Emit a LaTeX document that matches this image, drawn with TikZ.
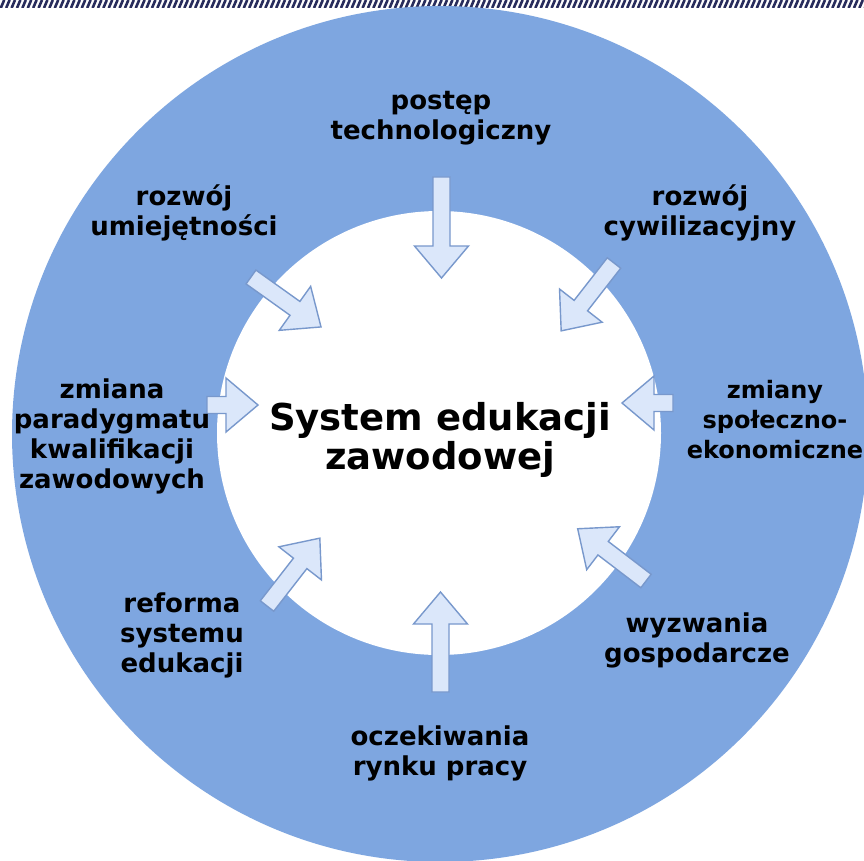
\documentclass[tikz,border=0pt]{standalone}
\usepackage{fontspec}
\setmainfont{DejaVu Sans}
\definecolor{ringblue}{RGB}{126,166,224}
\definecolor{arrfill}{RGB}{219,231,250}
\definecolor{arrline}{RGB}{120,152,204}
\definecolor{hatch}{RGB}{40,44,92}
\tikzset{
  flowarrow/.style={fill=arrfill, draw=arrline, line width=1.4pt, line join=miter},
  lbl/.style={font=\fontsize{26}{30}\selectfont\bfseries, align=center, text=black, anchor=base, inner sep=0pt},
  title/.style={font=\fontsize{37}{39}\selectfont\bfseries, align=center, text=black, anchor=base, inner sep=0pt}
}
\newcommand\flowarr[4]{%
  \draw[flowarrow, shift={(#1,#2)}, rotate=#3]
    (0,-8.5) -- ({#4-32},-8.5) -- ({#4-32},-27) -- (#4,0) -- ({#4-32},27) -- ({#4-32},8.5) -- (0,8.5) -- cycle;}
\begin{document}
\begin{tikzpicture}[x=1pt,y=1pt]
\useasboundingbox (0,0) rectangle (864,-861);
\fill[white] (0,0) rectangle (864,-861);
% hatched band
\begin{scope}
  \clip (0,0) rectangle (864,-7.5);
  \foreach \i in {-10,-4.6,...,870} \draw[hatch, line width=2.6pt] (\i,-8) -- (\i+3.4,0);
\end{scope}
% rings
\begin{scope}
  \clip (0,0) rectangle (864,-861);
  \fill[ringblue] (440,-434) circle (428);
\end{scope}
\fill[white] (439,-433) circle (222);
% arrows
\flowarr{441.5}{-177}{-90}{101}
\flowarr{614}{-263}{-127.9}{86}
\flowarr{673}{-403}{180}{51}
\flowarr{646}{-581}{142.6}{86}
\flowarr{440.5}{-692}{90}{100}
\flowarr{267}{-606}{52.1}{86}
\flowarr{207}{-405}{0}{51}
\flowarr{251}{-277}{-35.5}{86}
% texts (anchor base = last line baseline)
\node[title] (center) at (440,-469) {System edukacji\\zawodowej};
\node[lbl] (tech) at (441,-140) {postęp\\technologiczny};
\node[lbl] (umiej) at (184,-235) {rozwój\\umiejętności};
\node[lbl] (cyw) at (700,-235) {rozwój\\cywilizacyjny};
\node[lbl] (parad) at (112,-488) {zmiana\\paradygmatu\\kwalifikacji\\zawodowych};
\node[lbl, font=\fontsize{24}{30}\selectfont\bfseries] (spol) at (775,-458) {zmiany\\społeczno-\\ekonomiczne};
\node[lbl] (reform) at (182,-672) {reforma\\systemu\\edukacji};
\node[lbl] (wyzw) at (697,-662) {wyzwania\\gospodarcze};
\node[lbl] (rynek) at (440,-775) {oczekiwania\\rynku pracy};
\end{tikzpicture}
\end{document}
